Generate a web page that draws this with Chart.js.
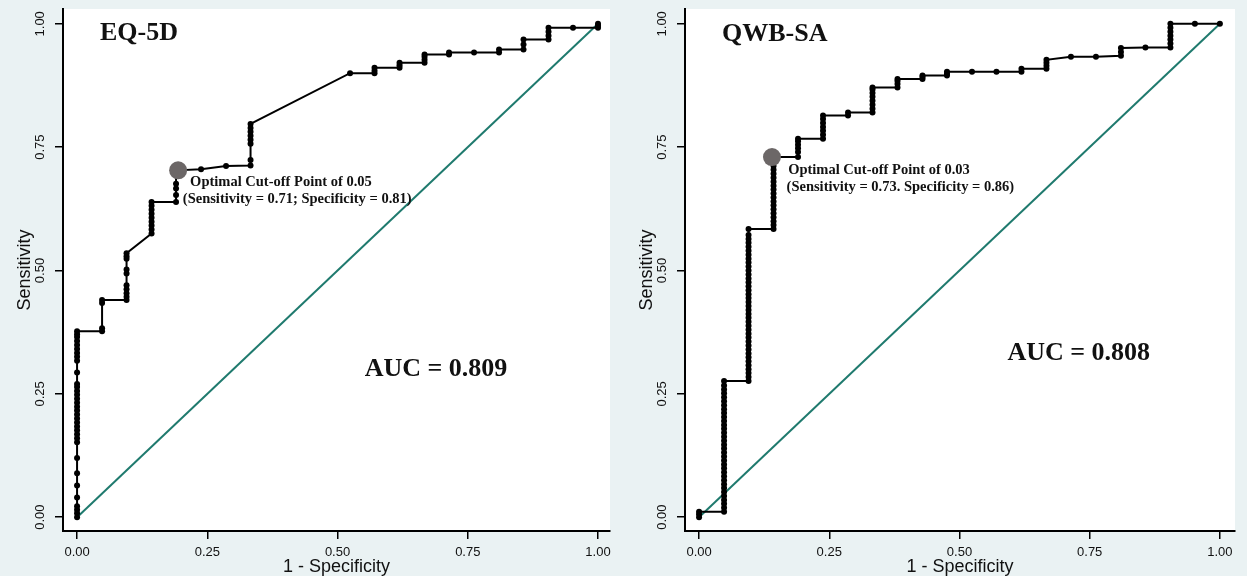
<!DOCTYPE html>
<html>
<head>
<meta charset="utf-8">
<script src="https://cdn.jsdelivr.net/npm/chart.js@4"></script>
<style>
	html, body { margin: 0; padding: 0; background: rgb(234,242,243); }
	#wrap { position: relative; width: 1247px; height: 576px; overflow: hidden; }
	.panel { position: absolute; top: 0; }
</style>
</head>
<body>
<div id="wrap">
	<div class="panel" style="left:0"><canvas id="eq" width="622" height="576"></canvas></div>
	<div class="panel" style="left:622px"><canvas id="qwb" width="625" height="576"></canvas></div>
</div>
<script>
// tick labels shared by both panels
const axisTicks = [0, 0.25, 0.5, 0.75, 1];

// EQ-5D: 1 - specificity steps and the sensitivities hit at each step
const eqFpr = [0, 0.048, 0.095, 0.143, 0.19, 0.238, 0.286, 0.333, 0.524, 0.571, 0.619, 0.667, 0.714, 0.762, 0.81, 0.857, 0.905, 0.952, 1];
const eqSens = [
	[0, 0.008, 0.015, 0.022, 0.04, 0.064, 0.089, 0.12, 0.152, 0.16, 0.168, 0.176, 0.184, 0.192, 0.2, 0.208, 0.216, 0.224, 0.232, 0.24, 0.248, 0.256, 0.264, 0.27, 0.293, 0.317, 0.325, 0.333, 0.341, 0.349, 0.357, 0.365, 0.371, 0.377],
	[0.377, 0.383, 0.434, 0.44],
	[0.44, 0.447, 0.454, 0.462, 0.47, 0.494, 0.502, 0.524, 0.529, 0.535],
	[0.575, 0.583, 0.591, 0.599, 0.607, 0.615, 0.623, 0.631, 0.639],
	[0.639, 0.653, 0.666, 0.676, 0.703],
	[0.705],
	[0.712],
	[0.713, 0.724, 0.757, 0.765, 0.773, 0.781, 0.789, 0.797],
	[0.9],
	[0.9, 0.905, 0.911],
	[0.911, 0.916, 0.921],
	[0.921, 0.927, 0.933, 0.938],
	[0.938, 0.942],
	[0.942],
	[0.942, 0.948],
	[0.948, 0.958, 0.968],
	[0.968, 0.976, 0.984, 0.992],
	[0.992],
	[0.992, 0.996, 1]
];
const eqCut = [0.194, 0.703];

// QWB-SA
const qwFpr = [0, 0.048, 0.095, 0.143, 0.19, 0.238, 0.286, 0.333, 0.381, 0.429, 0.476, 0.524, 0.571, 0.619, 0.667, 0.714, 0.762, 0.81, 0.857, 0.905, 0.952, 1];
const qwSens = [
	[0, 0.006, 0.011],
	[0.011, 0.019, 0.027, 0.035, 0.043, 0.051, 0.059, 0.067, 0.075, 0.083, 0.091, 0.099, 0.107, 0.115, 0.123, 0.131, 0.139, 0.147, 0.155, 0.163, 0.171, 0.179, 0.187, 0.195, 0.203, 0.211, 0.219, 0.227, 0.235, 0.243, 0.251, 0.259, 0.267, 0.276],
	[0.276, 0.284, 0.292, 0.3, 0.308, 0.316, 0.324, 0.332, 0.34, 0.348, 0.356, 0.364, 0.372, 0.38, 0.388, 0.396, 0.404, 0.412, 0.42, 0.428, 0.436, 0.444, 0.452, 0.46, 0.468, 0.476, 0.484, 0.492, 0.5, 0.508, 0.516, 0.524, 0.532, 0.54, 0.548, 0.556, 0.564, 0.572, 0.584],
	[0.584, 0.592, 0.6, 0.608, 0.616, 0.624, 0.632, 0.64, 0.648, 0.656, 0.664, 0.672, 0.68, 0.688, 0.696, 0.704, 0.712, 0.72, 0.73],
	[0.73, 0.74, 0.748, 0.755, 0.762, 0.767],
	[0.767, 0.775, 0.783, 0.791, 0.799, 0.807, 0.814],
	[0.814, 0.82],
	[0.82, 0.828, 0.836, 0.844, 0.852, 0.86, 0.867, 0.871],
	[0.871, 0.878, 0.884, 0.888],
	[0.888, 0.892, 0.895],
	[0.895, 0.899, 0.903],
	[0.903],
	[0.903],
	[0.903, 0.909],
	[0.909, 0.915, 0.921, 0.927],
	[0.933],
	[0.933],
	[0.935, 0.943, 0.951],
	[0.952],
	[0.952, 0.96, 0.968, 0.976, 0.984, 0.992, 1],
	[1],
	[1]
];
const qwCut = [0.14, 0.73];

const BG = 'rgb(234,242,243)';
Chart.defaults.font.family = '"Liberation Sans", Arial, sans-serif';

// backgrounds + the text that Stata puts inside the plot
const decor = {
	id: 'decor',
	beforeDraw(chart, args, opts){
		const {ctx, chartArea: a} = chart;
		ctx.save();
		ctx.fillStyle = BG;
		ctx.fillRect(0, 0, chart.width, chart.height);
		ctx.fillStyle = '#fff';
		ctx.fillRect(a.left, a.top, a.right - a.left, a.bottom - a.top);
		ctx.restore();
	},
	afterDatasetsDraw(chart, args, opts){
		const {ctx, scales: {x, y}} = chart;
		const px = (p) => [x.getPixelForValue(p[0]), y.getPixelForValue(p[1])];
		ctx.save();
		ctx.fillStyle = '#111';
		ctx.textBaseline = 'middle';
		ctx.font = 'bold 26px "Liberation Serif", serif';
		ctx.textAlign = 'left';
		ctx.fillText(opts.title, ...px(opts.titleAt));
		ctx.textAlign = 'center';
		ctx.fillText(opts.auc, ...px(opts.aucAt));
		ctx.font = 'bold 14.5px "Liberation Serif", serif';
		ctx.textAlign = 'left';
		opts.note.forEach((line, i) => ctx.fillText(line, ...px(opts.noteAt[i])));
		ctx.restore();
	}
};

function rocPoints(fpr, sens){
	let pts = [];
	fpr.forEach((fx, i) => sens[i].forEach((s) => pts.push({x: fx, y: s})));
	return pts;
}

function makeChart(id, fpr, sens, cut, xMax, text){
	const setTicks = (axis) => { axis.ticks = axisTicks.map((v) => ({value: v})); };
	return new Chart(document.getElementById(id), {
		type: 'scatter',
		data: {
			datasets: [
				{
					data: [{x: cut[0], y: cut[1]}],
					pointRadius: 9, pointBackgroundColor: '#6c6767', pointBorderWidth: 0
				},
				{
					data: rocPoints(fpr, sens),
					showLine: true, borderColor: '#000', borderWidth: 2,
					pointRadius: 3, pointBackgroundColor: '#000', pointBorderWidth: 0
				},
				{
					data: [{x: 0, y: 0}, {x: 1, y: 1}],
					showLine: true, borderColor: '#1f7a6e', borderWidth: 2, pointRadius: 0
				}
			]
		},
		options: {
			responsive: false,
			animation: false,
			events: [],
			layout: {padding: {left: 0, right: 12, top: 6, bottom: 0}},
			plugins: {
				legend: {display: false},
				tooltip: {enabled: false},
				decor: text
			},
			scales: {
				x: {
					type: 'linear', bounds: 'data', min: -0.027, max: xMax,
					afterBuildTicks: setTicks,
					afterFit: (s) => { s.height = 45; s.paddingLeft = 0; s.paddingRight = 0; },
					grid: {drawOnChartArea: false, tickLength: 8, color: '#000', lineWidth: 1.5},
					border: {color: '#000', width: 2},
					ticks: {
						autoSkip: false, padding: 6, color: '#111',
						font: {size: 13}, callback: (v) => v.toFixed(2)
					},
					title: {
						display: true, text: '1 - Specificity', color: '#111',
						font: {size: 18, lineHeight: 1}, padding: {top: 0, bottom: 0}
					}
				},
				y: {
					type: 'linear', bounds: 'data', min: -0.028, max: 1.03,
					afterBuildTicks: setTicks,
					afterFit: (s) => { s.width = 63; s.paddingTop = 0; s.paddingBottom = 0; },
					grid: {drawOnChartArea: false, tickLength: 8, color: '#000', lineWidth: 1.5},
					border: {color: '#000', width: 2},
					ticks: {
						autoSkip: false, padding: 2, color: '#111', minRotation: 90, maxRotation: 90,
						crossAlign: 'center', font: {size: 13}, callback: (v) => v.toFixed(2)
					},
					title: {
						display: true, text: 'Sensitivity', color: '#111',
						font: {size: 18, lineHeight: 1}, padding: {top: 16, bottom: 0}
					}
				}
			}
		},
		plugins: [decor]
	});
}

makeChart('eq', eqFpr, eqSens, eqCut, 1.023, {
	title: 'EQ-5D', titleAt: [0.044, 0.98],
	auc: 'AUC = 0.809', aucAt: [0.689, 0.30],
	note: ['Optimal Cut-off Point of 0.05', '(Sensitivity = 0.71; Specificity = 0.81)'],
	noteAt: [[0.217, 0.679], [0.203, 0.645]]
});

makeChart('qwb', qwFpr, qwSens, qwCut, 1.029, {
	title: 'QWB-SA', titleAt: [0.044, 0.978],
	auc: 'AUC = 0.808', aucAt: [0.729, 0.333],
	note: ['Optimal Cut-off Point of 0.03', '(Sensitivity = 0.73. Specificity = 0.86)'],
	noteAt: [[0.171, 0.704], [0.168, 0.669]]
});
</script>
</body>
</html>
